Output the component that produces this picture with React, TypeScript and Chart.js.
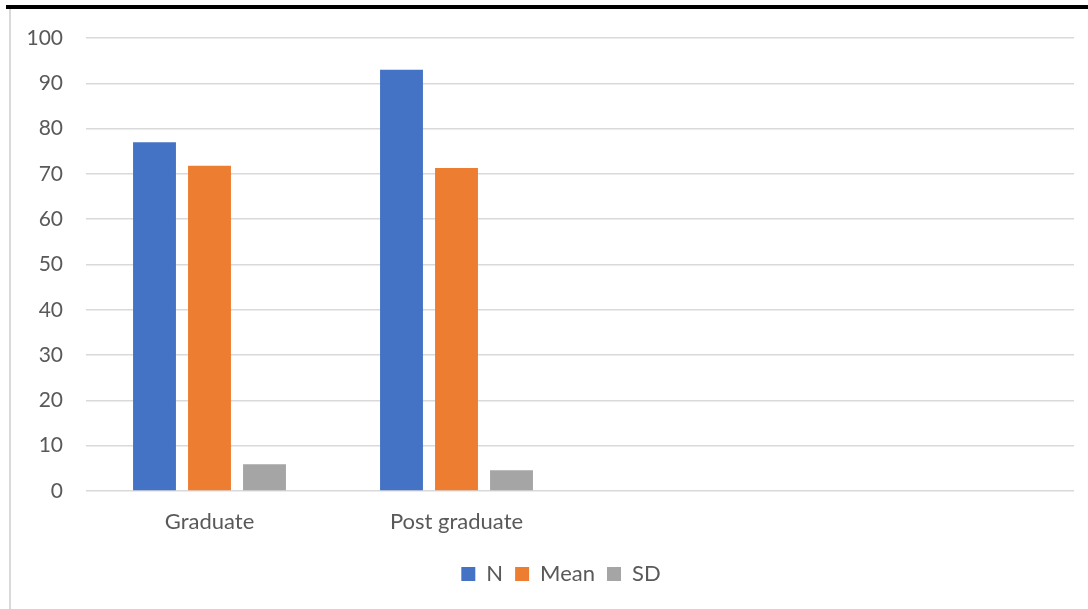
import React, { useEffect, useRef } from "react";
import { Chart, registerables } from "chart.js";

Chart.register(...registerables);

const categories = ["Graduate", "Post graduate", "", ""];
const nValues = [77, 93, null, null];
const meanValues = [71.8, 71.3, null, null];
const sdValues = [5.9, 4.6, null, null];
const yTicks = [0, 10, 20, 30, 40, 50, 60, 70, 80, 90, 100];

const FONT = "Lato, 'Open Sans', sans-serif";
const TEXT = "#595959";

const legendShift = {
  id: "legendShift",
  afterLayout(chart: any) {
    if (chart.legend) {
      chart.legend.left += 48;
    }
  },
};

export default function App() {
  const ref = useRef<HTMLCanvasElement | null>(null);

  useEffect(() => {
    document.body.style.margin = "0";
    const canvas = ref.current;
    if (!canvas) return;
    const chart = new Chart(canvas, {
      type: "bar",
      data: {
        labels: categories,
        datasets: [
          { label: "N", data: nValues, backgroundColor: "#4472C4" },
          { label: "Mean", data: meanValues, backgroundColor: "#ED7D31" },
          { label: "SD", data: sdValues, backgroundColor: "#A5A5A5" },
        ],
      },
      options: {
        responsive: false,
        animation: false,
        datasets: {
          bar: { categoryPercentage: 0.668, barPercentage: 0.78 },
        },
        layout: { padding: { top: 38, right: 14, bottom: 14, left: 0 } },
        plugins: {
          tooltip: { enabled: false },
          legend: {
            position: "bottom",
            labels: {
              boxWidth: 14,
              boxHeight: 14,
              padding: 12,
              color: TEXT,
              font: { family: FONT, size: 22 },
            },
          },
        },
        scales: {
          x: {
            grid: { display: false, drawTicks: false },
            border: { display: false },
            ticks: { color: TEXT, font: { family: FONT, size: 22 }, padding: 18, maxRotation: 0 },
            afterFit: (s: any) => {
              s.height = 60;
            },
          },
          y: {
            min: 0,
            max: 100,
            afterBuildTicks: (s: any) => {
              s.ticks = yTicks.map((v) => ({ value: v }));
            },
            grid: { color: "#d9d9d9", lineWidth: 1.5, drawTicks: false },
            border: { display: false },
            ticks: { color: TEXT, font: { family: FONT, size: 21 }, padding: 23 },
            afterFit: (s: any) => {
              s.width = 86;
            },
          },
        },
      },
      plugins: [legendShift],
    });
    return () => chart.destroy();
  }, []);

  return (
    <div style={{ position: "relative", width: 1088, height: 609, background: "#fff", overflow: "hidden" }}>
      <canvas ref={ref} width={1088} height={609} style={{ position: "absolute", left: 0, top: 0, width: 1088, height: 609 }} />
      <div style={{ position: "absolute", left: 6, top: 5, width: 1082, height: 4, background: "#000" }} />
      <div style={{ position: "absolute", left: 9, top: 9, width: 2, height: 600, background: "#d9d9d9" }} />
    </div>
  );
}
